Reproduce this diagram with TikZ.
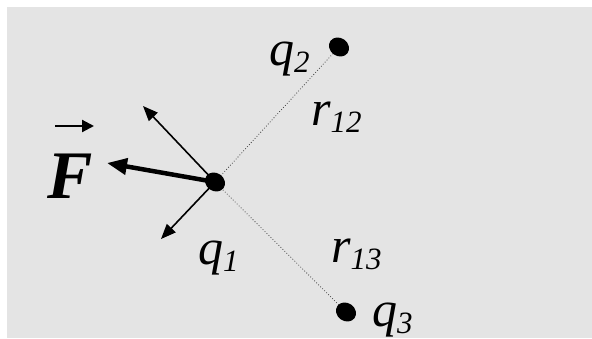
\documentclass[tikz,border=0pt]{standalone}
\usepackage{fontspec}
\setmainfont{Liberation Serif}
\usetikzlibrary{shapes.geometric,arrows.meta,backgrounds}
\newcommand\mysub[1]{\raisebox{-7pt}{\fontsize{31}{31}\selectfont\itshape #1}}
\begin{document}
\begin{tikzpicture}[x=1pt,y=-1pt,
  chargedot/.style={ellipse,fill=black,inner sep=0pt,minimum width=21pt,minimum height=18pt},
  lbl/.style={anchor=base west,inner sep=0pt,font=\fontsize{50}{50}\selectfont\itshape},
  distline/.style={draw=black!75,line width=0.8pt,dotted},
  thinarrow/.style={draw=black,line width=1.6pt,-{Triangle[length=15pt,width=12pt]}},
  forcearrow/.style={draw=black,line width=4.5pt,-{Triangle[length=20pt,width=16pt]}},
  vecarrow/.style={draw=black,line width=2.2pt,-{Triangle[length=12pt,width=12pt]}}]
\useasboundingbox (0,0) rectangle (592,338);
\begin{scope}[on background layer]
  \fill[fill={rgb,255:red,228;green,228;blue,228}] (7,7) rectangle (592,338);
\end{scope}
% charges
\node[chargedot,rotate=-35] (q1) at (215,182) {};
\node[chargedot,rotate=-35] (q2) at (339,47) {};
\node[chargedot,rotate=-35] (q3) at (346,312) {};
% free ends
\coordinate (tipU) at (143,106);
\coordinate (tipD) at (161,239);
\coordinate (tipF) at (107,163);
\coordinate (vecS) at (55,126);
\coordinate (vecE) at (94,126);
\begin{scope}[on background layer]
  \draw[distline] (q1.center) -- (q2.center);
  \draw[distline] (q1.center) -- (q3.center);
\end{scope}
\draw[thinarrow] (q1.center) -- (tipU);
\draw[thinarrow] (q1.center) -- (tipD);
\draw[forcearrow] (q1.center) -- (tipF);
\draw[vecarrow] (vecS) -- (vecE);
% labels
\node[lbl] (lq2) at (269,65) {q\mysub{2}};
\node[lbl] (lr12) at (311,125) {r\mysub{12}};
\node[lbl] (lq1) at (198,264) {q\mysub{1}};
\node[lbl] (lr13) at (331,262) {r\mysub{13}};
\node[lbl] (lq3) at (372,326) {q\mysub{3}};
\node[anchor=base west,inner sep=0pt,font=\fontsize{68}{68}\selectfont\bfseries\itshape] (lF) at (47,198) {F};
\end{tikzpicture}
\end{document}
